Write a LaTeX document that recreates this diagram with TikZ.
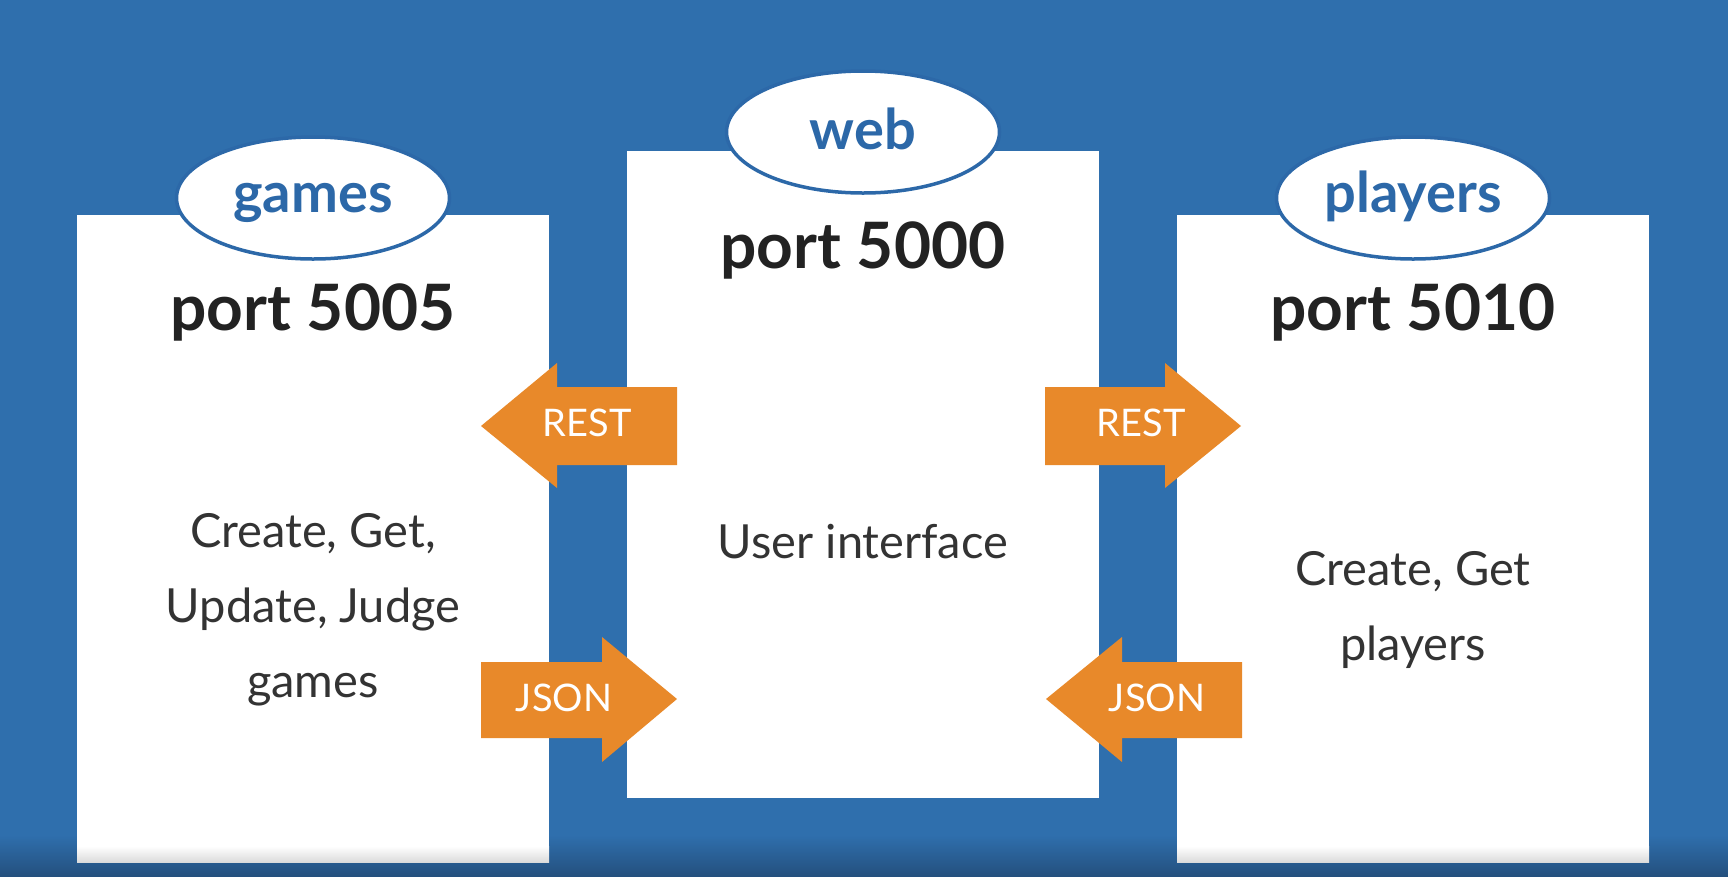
\documentclass[tikz,border=0pt]{standalone}
\usepackage{fontspec}
\setmainfont{Lato}
\usetikzlibrary{shapes.geometric}

\definecolor{bgblue}{HTML}{2F6FAD}
\definecolor{bgdark}{HTML}{24507E}
\definecolor{tagblue}{HTML}{2C68A8}
\definecolor{flowor}{HTML}{E8892A}
\definecolor{porttext}{HTML}{222222}
\definecolor{bodytext}{HTML}{333333}

\begin{document}
\begin{tikzpicture}[x=1pt,y=-1pt,
    box/.style={fill=white,inner sep=0pt,minimum width=472pt,minimum height=647pt},
    tag/.style={ellipse,fill=white,draw=tagblue,line width=3.5pt,minimum width=273pt,minimum height=122pt},
    tagtext/.style={anchor=base,text=tagblue,font=\fontsize{56}{66}\selectfont\bfseries},
    port/.style={anchor=base,text=porttext,font=\fontsize{64}{74}\selectfont\bfseries},
    body/.style={anchor=base,align=center,text=bodytext,font=\fontsize{47}{75}\selectfont},
    flow/.style={fill=flowor},
    flowtext/.style={anchor=base,text=white,font=\fontsize{38}{44}\selectfont}]
        \useasboundingbox (0,0) rectangle (1728,876);
        % Background
        \fill[bgblue] (0,0) rectangle (1728,876);
        \shade[top color=bgblue,bottom color=bgdark] (0,835) rectangle (1728,876);

        % Boxes
        \node[box] (gamesbox) at (313,538.5) {};
        \node[box] (webbox) at (863,474) {};
        \node[box] (playersbox) at (1413,538.5) {};
        \shade[top color=white,bottom color=black!14] (77,846) rectangle (549,862);
        \shade[top color=white,bottom color=black!14] (1177,846) rectangle (1649,862);

        % Tags
        \node[tag] (gamestag) at (313,198) {};
        \node[tag] (webtag) at (863,132) {};
        \node[tag] (playerstag) at (1413,198) {};
        \node[tagtext] (gamesname) at (313,212) {games};
        \node[tagtext] (webname) at (863,149) {web};
        \node[tagtext] (playersname) at (1413,212) {players};

        % Ports
        \node[port] (gamesport) at (313,330) {port 5005};
        \node[port] (webport) at (863,268) {port 5000};
        \node[port] (playersport) at (1413,330) {port 5010};

        % Descriptions (base is the last line)
        \node[body] (gamesdesc) at (313,697) {Create, Get,\\Update, Judge\\games};
        \node[body] (webdesc) at (863,558) {User interface};
        \node[body] (playersdesc) at (1413,660) {Create, Get\\players};

        % Left arrows
        \fill[flow] (677,387) -- (557,387) -- (557,363) -- (481,426) -- (557,488) -- (557,465) -- (677,465) -- cycle;  % REST
        \fill[flow] (481,662) -- (602,662) -- (602,637) -- (677,699) -- (602,762) -- (602,738) -- (481,738) -- cycle;  % JSON
        \node[flowtext] (restleft) at (587,436) {REST};
        \node[flowtext] (jsonleft) at (564,711) {JSON};

        % Right arrows
        \fill[flow] (1045,387) -- (1165,387) -- (1165,363) -- (1241,426) -- (1165,488) -- (1165,465) -- (1045,465) -- cycle;  % REST
        \fill[flow] (1242,662) -- (1122,662) -- (1122,637) -- (1046,699) -- (1122,762) -- (1122,738) -- (1242,738) -- cycle;  % JSON
        \node[flowtext] (restright) at (1141,436) {REST};
        \node[flowtext] (jsonright) at (1157,711) {JSON};
\end{tikzpicture}
\end{document}
